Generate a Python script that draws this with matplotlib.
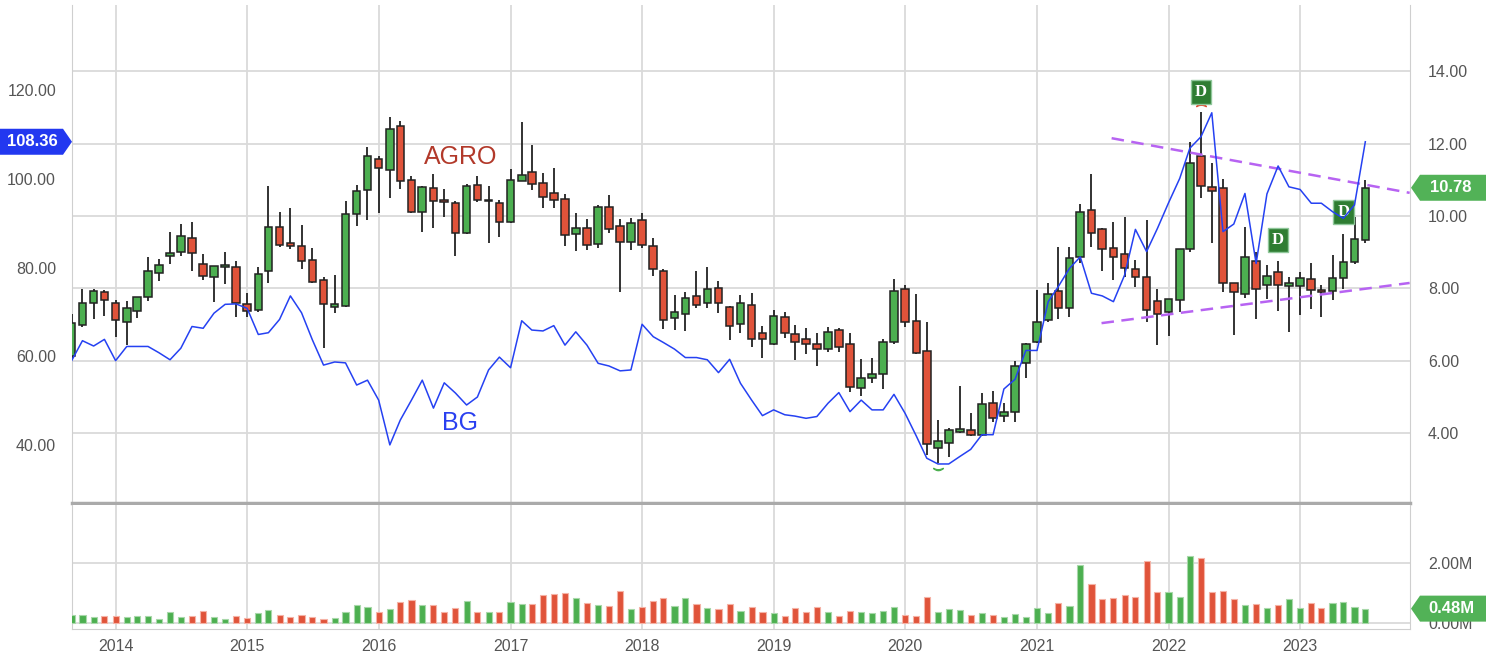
import matplotlib
matplotlib.use('Agg')
import matplotlib.pyplot as plt
import matplotlib.dates as mdates
import matplotlib.transforms as mtransforms
from matplotlib.patches import Polygon
import pandas as pd

plt.rcParams['font.family'] = ['Liberation Sans', 'DejaVu Sans']

# monthly candles, Sep 2013 .. Jul 2023
months = pd.date_range('2013-09-01', periods=119, freq='MS')

agro_open = [6.14, 6.98, 7.59, 7.91, 7.59, 7.06, 7.38, 7.75, 8.43, 8.90,
             9.01, 9.40, 8.67, 8.32, 8.60, 8.58, 7.56, 7.40, 8.49, 9.69,
             9.25, 9.18, 8.78, 8.23, 7.48, 7.51, 10.05, 10.72, 11.57, 11.27,
             12.49, 10.99, 10.12, 10.78, 10.44, 10.37, 9.52, 10.86, 10.41, 10.37,
             9.84, 10.98, 11.22, 10.92, 10.63, 10.47, 9.50, 9.66, 9.23, 10.26,
             9.73, 9.27, 9.89, 9.17, 8.49, 7.18, 7.29, 7.79, 7.59, 8.00,
             7.49, 7.02, 7.54, 6.76, 6.46, 7.20, 6.74, 6.59, 6.46, 6.32,
             6.85, 6.46, 5.24, 5.52, 5.63, 6.51, 7.98, 7.10, 6.28, 3.58,
             3.72, 4.04, 4.09, 3.95, 4.84, 4.48, 4.59, 5.93, 6.53, 7.13,
             7.93, 7.45, 8.88, 10.17, 9.63, 9.11, 8.95, 8.54, 8.32, 7.66,
             7.36, 7.68, 9.09, 11.66, 10.79, 10.78, 8.14, 7.84, 8.76, 8.09,
             8.46, 8.07, 8.07, 8.25, 7.96, 7.94, 8.30, 8.72, 9.34]
agro_high = [7.29, 7.98, 7.98, 7.96, 7.68, 7.65, 7.76, 8.86, 8.81, 9.56,
             9.78, 9.83, 8.94, 8.62, 9.01, 8.77, 7.86, 8.60, 10.84, 10.12,
             10.23, 9.75, 9.11, 8.32, 8.37, 10.41, 10.86, 11.91, 11.66, 12.73,
             12.63, 11.10, 10.83, 11.16, 10.74, 10.41, 10.88, 11.10, 10.83, 10.44,
             11.31, 12.60, 11.96, 11.20, 11.32, 10.60, 10.07, 9.91, 10.30, 10.58,
             9.91, 9.95, 10.07, 9.40, 8.54, 7.82, 7.91, 8.49, 8.60, 8.20,
             7.51, 7.82, 7.86, 6.96, 7.40, 7.34, 6.99, 6.90, 6.76, 6.93,
             6.90, 6.76, 6.04, 6.07, 6.59, 8.25, 8.09, 7.85, 7.08, 4.36,
             4.14, 5.30, 4.57, 5.10, 5.17, 4.83, 5.98, 6.49, 7.96, 8.16,
             9.15, 9.14, 10.33, 11.16, 9.67, 9.84, 9.98, 8.78, 9.89, 7.98,
             7.71, 9.09, 12.05, 12.88, 11.46, 11.01, 8.15, 9.70, 9.01, 8.65,
             8.77, 8.32, 8.46, 8.71, 8.09, 8.92, 9.50, 9.98, 10.99]
agro_low = [6.05, 6.93, 7.15, 7.25, 6.67, 6.44, 7.19, 7.66, 8.21, 8.67,
            8.90, 8.49, 8.23, 7.62, 8.11, 7.22, 7.22, 7.34, 8.14, 9.14,
            9.10, 8.54, 8.14, 6.35, 7.31, 7.49, 9.73, 9.89, 10.09, 10.49,
            10.74, 10.07, 9.55, 9.66, 9.98, 8.90, 9.50, 10.40, 9.25, 9.43,
            9.81, 10.97, 10.72, 10.23, 10.21, 9.17, 9.04, 9.06, 9.11, 9.54,
            7.91, 9.06, 9.11, 8.35, 6.87, 6.85, 6.83, 7.45, 7.47, 7.31,
            6.57, 6.76, 6.39, 6.07, 6.44, 6.62, 6.02, 6.18, 5.86, 6.25,
            6.25, 5.15, 5.03, 5.38, 5.21, 6.46, 6.94, 6.19, 3.40, 3.17,
            3.33, 4.00, 3.93, 3.92, 4.32, 4.32, 4.32, 5.52, 6.50, 7.08,
            7.15, 7.20, 8.69, 9.15, 8.49, 8.23, 8.31, 8.05, 7.08, 6.44,
            6.69, 7.36, 9.01, 10.49, 9.25, 7.91, 6.71, 7.73, 7.15, 7.70,
            7.38, 6.80, 7.27, 7.42, 7.22, 7.68, 7.98, 8.67, 9.26]
agro_close = [7.04, 7.59, 7.94, 7.68, 7.13, 7.45, 7.75, 8.47, 8.64, 8.97,
              9.46, 8.97, 8.35, 8.61, 8.64, 7.59, 7.38, 8.40, 9.70, 9.20,
              9.17, 8.77, 8.19, 7.57, 7.56, 10.06, 10.69, 11.67, 11.32, 12.40,
              10.97, 10.10, 10.81, 10.42, 10.40, 9.54, 10.83, 10.44, 10.44, 9.84,
              10.99, 11.13, 10.88, 10.52, 10.44, 9.48, 9.66, 9.20, 10.26, 9.64,
              9.29, 9.81, 9.20, 8.53, 7.13, 7.34, 7.73, 7.54, 7.98, 7.60,
              6.96, 7.60, 6.61, 6.60, 7.24, 6.76, 6.53, 6.46, 6.32, 6.79,
              6.39, 5.28, 5.53, 5.63, 6.53, 7.94, 7.08, 6.21, 3.69, 3.78,
              4.09, 4.12, 3.95, 4.80, 4.43, 4.58, 5.86, 6.46, 7.08, 7.84,
              7.45, 8.83, 10.10, 9.54, 9.08, 8.88, 8.57, 8.31, 7.40, 7.28,
              7.70, 9.08, 11.47, 10.83, 10.69, 8.14, 7.89, 8.88, 7.98, 8.34,
              8.09, 8.14, 8.28, 7.96, 7.91, 8.30, 8.74, 9.36, 10.78]
volume_m = [0.26, 0.28, 0.21, 0.23, 0.24, 0.20, 0.23, 0.24, 0.14, 0.37,
            0.20, 0.23, 0.41, 0.20, 0.13, 0.23, 0.17, 0.34, 0.44, 0.26,
            0.20, 0.28, 0.20, 0.13, 0.18, 0.38, 0.59, 0.54, 0.38, 0.46,
            0.71, 0.78, 0.60, 0.61, 0.38, 0.51, 0.73, 0.36, 0.38, 0.36,
            0.71, 0.62, 0.64, 0.93, 0.97, 1.00, 0.84, 0.66, 0.60, 0.56,
            1.06, 0.47, 0.53, 0.72, 0.84, 0.58, 0.83, 0.63, 0.51, 0.48,
            0.64, 0.41, 0.53, 0.38, 0.33, 0.24, 0.51, 0.37, 0.54, 0.37,
            0.23, 0.41, 0.38, 0.34, 0.40, 0.54, 0.27, 0.22, 0.88, 0.38,
            0.48, 0.43, 0.27, 0.33, 0.27, 0.19, 0.30, 0.20, 0.50, 0.34,
            0.67, 0.58, 1.94, 1.30, 0.79, 0.83, 0.92, 0.86, 2.06, 1.04,
            1.04, 0.88, 2.24, 2.16, 1.04, 1.07, 0.81, 0.60, 0.63, 0.51,
            0.60, 0.80, 0.51, 0.68, 0.50, 0.66, 0.71, 0.53, 0.48]
bg_close = [59.0, 63.5, 62.3, 63.8, 59.0, 62.2, 62.2, 62.2, 60.8, 59.2,
            61.8, 66.7, 66.3, 69.7, 71.7, 71.8, 70.8, 64.9, 65.3, 68.3,
            73.6, 69.8, 63.7, 58.0, 58.7, 58.5, 53.5, 54.6, 50.1, 40.0,
            45.6, 50.1, 54.6, 48.3, 54.0, 51.7, 49.0, 50.8, 56.9, 59.8,
            57.4, 68.0, 65.9, 65.7, 66.9, 62.5, 65.5, 62.5, 58.4, 57.8,
            56.7, 56.9, 67.2, 64.4, 63.1, 61.6, 59.7, 59.7, 59.2, 56.3,
            59.3, 53.9, 50.1, 46.6, 47.9, 46.8, 46.5, 46.0, 46.4, 49.4,
            51.8, 47.5, 50.1, 47.9, 47.9, 51.4, 47.1, 42.0, 37.0, 35.7,
            35.7, 37.4, 39.0, 42.3, 42.3, 52.6, 54.8, 61.3, 61.3, 72.3,
            75.7, 79.8, 82.4, 74.2, 73.6, 72.3, 78.3, 88.6, 83.6, 88.8,
            94.6, 100.1, 106.9, 109.5, 114.9, 88.1, 89.8, 96.7, 80.9, 96.6,
            102.9, 98.2, 97.6, 94.5, 94.5, 92.6, 91.1, 94.1, 108.36]

# drawn trend channel (AGRO scale)
upper_trend_dates = ['2021-07-27', '2023-11-01']
upper_trend_vals = [12.15, 10.64]
lower_trend_dates = ['2021-06-29', '2023-11-01']
lower_trend_vals = [7.04, 8.15]

# dividend markers (AGRO scale)
div_dates = ['2022-04-01', '2022-11-01', '2023-05-01']
div_vals = [13.43, 9.34, 10.11]

years = list(range(2014, 2024))

GREEN = '#4caf50'
RED = '#e0533a'
GRID = '#dadada'
TXT = '#555555'

x = mdates.date2num(months)
colors = [GREEN if c >= o else RED for o, c in zip(agro_open, agro_close)]

W, H = 1496, 666
fig = plt.figure(figsize=(W / 100, H / 100), dpi=100)
ax = fig.add_axes([72 / W, 1 - 503 / H, (1410 - 72) / W, (503 - 5) / H])
axv = fig.add_axes([72 / W, 1 - 629 / H, (1410 - 72) / W, (629 - 505) / H], sharex=ax)
ax_bg = ax.twinx()

# candles
ax.vlines(x, agro_low, agro_high, color='#222222', lw=1.3, zorder=3)
bottoms = [min(o, c) for o, c in zip(agro_open, agro_close)]
heights = [max(abs(c - o), 0.04) for o, c in zip(agro_open, agro_close)]
ax.bar(x, heights, bottom=bottoms, width=21, color=colors,
       edgecolor='#222222', linewidth=1.1, zorder=4)

# trend channel
for d, v in [(upper_trend_dates, upper_trend_vals), (lower_trend_dates, lower_trend_vals)]:
    ax.plot(mdates.date2num(pd.to_datetime(d)), v, color='#b763f2', lw=1.8,
            ls=(0, (5, 3)), zorder=5)

# dividend boxes
for d, v in zip(div_dates, div_vals):
    ax.text(mdates.date2num(pd.Timestamp(d)), v, 'D', ha='center', va='center',
            color='white', fontsize=12, fontweight='bold', family='Liberation Serif',
            zorder=8, bbox=dict(boxstyle='square,pad=0.25', fc='#2e7d32', ec='#8fc79a', lw=1))
ax.plot(mdates.date2num(pd.Timestamp('2022-04-01')), 13.07, marker=r'$\frown$',
        color='#e0533a', ms=7, zorder=6)
ax.plot(mdates.date2num(pd.Timestamp('2020-04-01')), 3.01, marker=r'$\smile$',
        color='#4caf50', ms=7, zorder=6)

ax.text(mdates.date2num(pd.Timestamp('2016-08-15')), 11.63, 'AGRO', color='#b2392a',
        fontsize=18, ha='center', va='center', zorder=6)
ax.text(mdates.date2num(pd.Timestamp('2016-08-15')), 4.28, 'BG', color='#2a40f0',
        fontsize=18, ha='center', va='center', zorder=6)

# BG comparison line
ax_bg.plot(x, bg_close, color='#2541f2', lw=1.1, zorder=5)

# volume
vol_edge = ['#a8d8aa' if c == GREEN else '#f5b3a6' for c in colors]
axv.bar(x, volume_m, width=17, color=colors, edgecolor=vol_edge, linewidth=0.8, zorder=3)

# axes styling
ax.set_xlim(mdates.date2num(pd.Timestamp('2013-09-02')), mdates.date2num(pd.Timestamp('2023-11-02')))
ax.set_ylim(2.07, 15.83)
ax_bg.set_ylim(26.9, 139.2)
axv.set_ylim(-0.2, 3.94)

ax.yaxis.tick_right()
ax.set_yticks([4, 6, 8, 10, 12, 14])
ax.set_yticklabels([f'{v:.2f}' for v in [4, 6, 8, 10, 12, 14]])
ax.tick_params(axis='y', length=0, pad=13, labelsize=11.5, labelcolor=TXT)
ax.tick_params(axis='x', length=0, labelbottom=False)

ax_bg.yaxis.tick_left()
ax_bg.set_yticks([40, 60, 80, 100, 120])
ax_bg.set_yticklabels([f'{v:.2f}' for v in [40, 60, 80, 100, 120]])
ax_bg.tick_params(axis='y', length=0, pad=11.5, labelsize=11.5, labelcolor=TXT)

ticks = [mdates.date2num(pd.Timestamp(f'{y}-01-01')) for y in years]
axv.set_xticks(ticks)
axv.set_xticklabels([str(y) for y in years])
axv.tick_params(axis='x', length=0, pad=7, labelsize=11.5, labelcolor=TXT)
axv.yaxis.tick_right()
axv.set_yticks([0, 2])
axv.set_yticklabels(['0.00M', '2.00M'])
axv.tick_params(axis='y', length=0, pad=13, labelsize=11.5, labelcolor=TXT)

for a in (ax, axv):
    a.set_axisbelow(True)
    a.grid(True, color=GRID, lw=1.3)
    a.spines['top'].set_visible(False)
    a.spines['left'].set_color('#cfcfcf')
    a.spines['right'].set_color('#cfcfcf')
ax.spines['bottom'].set_color('#aaaaaa')
ax.spines['bottom'].set_linewidth(2.5)
axv.spines['bottom'].set_color('#cfcfcf')
for s in ax_bg.spines.values():
    s.set_visible(False)


# value tags on the axes edges
def tag(axis, val, text, color, side):
    ypix = axis.transData.transform((0, val))[1]
    h = 13
    if side == 'left':
        pts = [(0, ypix - h), (63, ypix - h), (72, ypix), (63, ypix + h), (0, ypix + h)]
        cx = 32
    else:
        pts = [(1411, ypix), (1420, ypix - h), (1486, ypix - h), (1486, ypix + h), (1420, ypix + h)]
        cx = 1451
    poly = Polygon(pts, closed=True, fc=color, ec='none', zorder=10,
                   transform=mtransforms.IdentityTransform())
    fig.add_artist(poly)
    fig.text(cx / W, ypix / H, text, ha='center', va='center', color='white',
             fontsize=12, fontweight='bold', zorder=11)


tag(ax_bg, bg_close[-1], f'{bg_close[-1]:.2f}', '#2238f0', 'left')
tag(ax, agro_close[-1], f'{agro_close[-1]:.2f}', '#52b257', 'right')
tag(axv, volume_m[-1], f'{volume_m[-1]:.2f}M', '#52b257', 'right')

fig.savefig('out.png', dpi=100)
